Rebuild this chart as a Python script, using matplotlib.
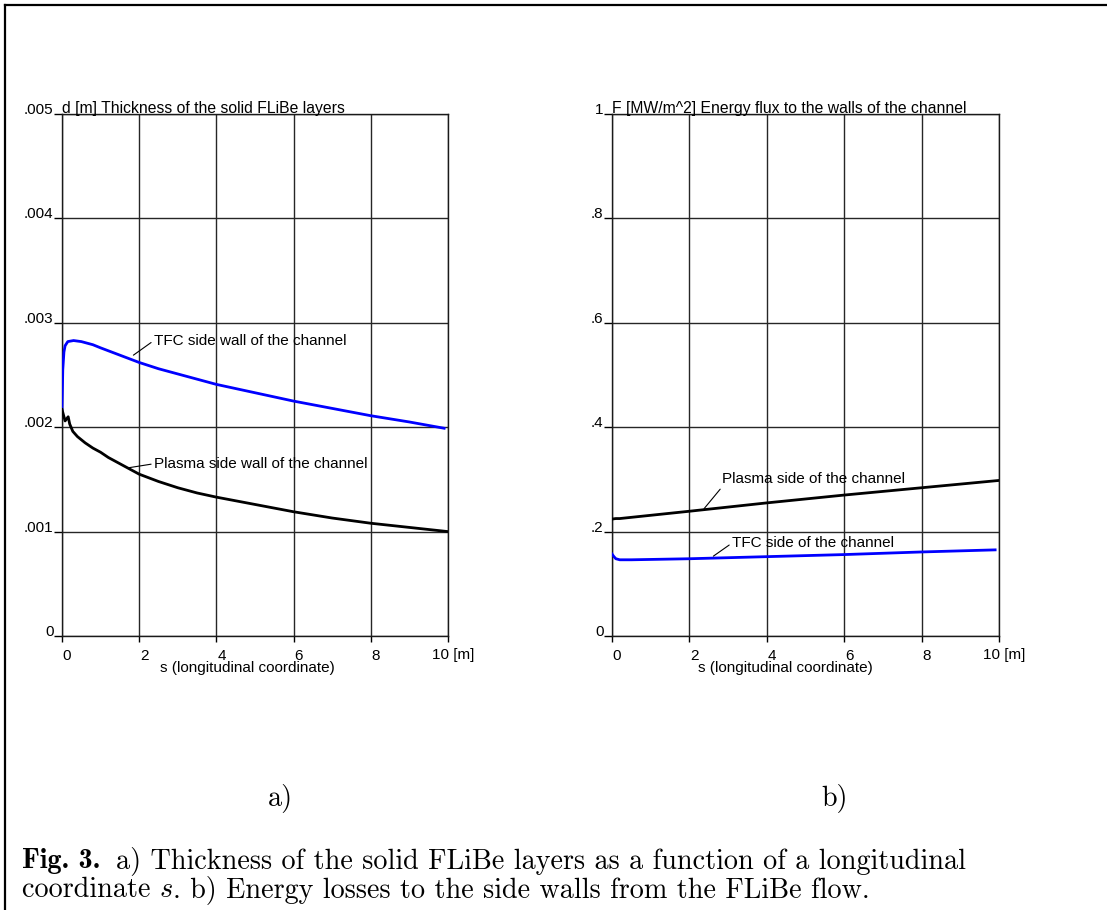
import numpy as np
import matplotlib.pyplot as plt
from matplotlib.lines import Line2D
from matplotlib.transforms import ScaledTranslation

# panel a) thickness of the solid FLiBe layers [m]
s_tfc_a = [0, 0.02, 0.05, 0.08, 0.15, 0.3, 0.5, 0.8, 1, 1.5, 2, 2.5, 3, 3.5, 4, 5, 6, 7, 8, 9, 9.9]
d_tfc = [0.00217, 0.00255, 0.00272, 0.00278, 0.00282, 0.00283, 0.00282, 0.00279,
         0.00276, 0.00269, 0.00262, 0.00256, 0.00251, 0.00246, 0.00241, 0.00233,
         0.00225, 0.00218, 0.00211, 0.00205, 0.00199]
s_pl_a = [0, 0.08, 0.16, 0.2, 0.28, 0.4, 0.6, 0.8, 1, 1.2, 1.5, 2, 2.5, 3, 3.5, 4,
          5, 6, 7, 8, 9, 10]
d_pl = [0.00217, 0.00206, 0.0021, 0.00203, 0.00196, 0.00191, 0.00185, 0.0018,
        0.00176, 0.00171, 0.00165, 0.00155, 0.00148, 0.00142, 0.00137, 0.00133,
        0.00126, 0.00119, 0.00113, 0.00108, 0.00104, 0.0010]

# panel b) energy flux to the walls [MW/m^2]
s_pl_b = [0, 0.1, 0.2, 2, 4, 6, 8, 10]
f_pl = [0.224, 0.225, 0.225, 0.239, 0.255, 0.270, 0.284, 0.298]
s_tfc_b = [0, 0.05, 0.1, 0.2, 0.5, 2, 4, 6, 8, 9.9]
f_tfc = [0.157, 0.152, 0.148, 0.146, 0.146, 0.148, 0.152, 0.156, 0.161, 0.165]

xticks = [0, 2, 4, 6, 8, 10]
xticklabels = ["0", "2", "4", "6", "8", "10 [m]"]
yticks_a = [0, 0.001, 0.002, 0.003, 0.004, 0.005]
yticklabels_a = ["0", ".001", ".002", ".003", ".004", ".005"]
yticks_b = [0, 0.2, 0.4, 0.6, 0.8, 1.0]
yticklabels_b = ["0", ".2", ".4", ".6", ".8", "1"]

plt.rcParams['font.family'] = ['Liberation Sans', 'DejaVu Sans']
fs = 11

fig = plt.figure(figsize=(11.07, 9.10), dpi=100)
W, H = 1107, 910


def make_axes(left_px, right_px, top_px=114, bottom_px=636):
    return fig.add_axes([left_px / W, 1 - bottom_px / H,
                         (right_px - left_px) / W, (bottom_px - top_px) / H])


def style(ax, yticks, yticklabels, ymax, title):
    ax.set_xlim(0, 10)
    ax.set_ylim(0, ymax)
    ax.set_xticks(xticks)
    ax.set_xticklabels(xticklabels)
    ax.set_yticks(yticks)
    ax.set_yticklabels(yticklabels)
    ax.grid(True, color='#262626', lw=1.0)
    for sp in ax.spines.values():
        sp.set_color('#1a1a1a')
        sp.set_linewidth(1.0)
    ax.tick_params(axis='x', length=4, width=1, pad=5, labelsize=fs)
    ax.tick_params(axis='y', length=6, width=1, pad=0, labelsize=fs)
    off = ScaledTranslation(5 / 100, 0, fig.dpi_scale_trans)
    for lab in ax.get_xticklabels():
        lab.set_transform(lab.get_transform() + off)
    for lab in ax.get_yticklabels():
        lab.set_va('baseline')
    ax.text(0, 1, title, transform=ax.transAxes + ScaledTranslation(0, 1 / 100, fig.dpi_scale_trans),
            ha='left', va='baseline', fontsize=11.3)


line_kw = dict(arrowstyle='-', color='black', lw=0.8, shrinkA=0, shrinkB=0)

ax1 = make_axes(62, 448)
style(ax1, yticks_a, yticklabels_a, 0.005, "d [m] Thickness of the solid FLiBe layers")
ax1.plot(s_tfc_a, d_tfc, color='#0000ff', lw=2.0, zorder=3)
ax1.plot(s_pl_a, d_pl, color='black', lw=2.0, zorder=3)
ax1.annotate("TFC side wall of the channel", xy=(1.85, 0.00269), xytext=(2.38, 0.00283),
             va='center', ha='left', fontsize=fs, arrowprops=dict(relpos=(0, 0.5), **line_kw))
ax1.annotate("Plasma side wall of the channel", xy=(1.7, 0.00161), xytext=(2.38, 0.00165),
             va='center', ha='left', fontsize=fs, arrowprops=dict(relpos=(0, 0.5), **line_kw))
ax1.text(4.8, -0.000307, "s (longitudinal coordinate)", ha='center', va='center', fontsize=fs)

ax2 = make_axes(612, 999)
style(ax2, yticks_b, yticklabels_b, 1.0, "F [MW/m^2] Energy flux to the walls of the channel")
ax2.plot(s_pl_b, f_pl, color='black', lw=2.0, zorder=3)
ax2.plot(s_tfc_b, f_tfc, color='#0000ff', lw=2.0, zorder=3)
ax2.annotate("Plasma side of the channel", xy=(2.38, 0.244), xytext=(2.85, 0.30),
             va='center', ha='left', fontsize=fs, arrowprops=dict(relpos=(0.02, 0.3), **line_kw))
ax2.annotate("TFC side of the channel", xy=(2.62, 0.153), xytext=(3.1, 0.178),
             va='center', ha='left', fontsize=fs, arrowprops=dict(relpos=(0, 0.5), **line_kw))
ax2.text(4.47, -0.061, "s (longitudinal coordinate)", ha='center', va='center', fontsize=fs)

# page frame
fig.add_artist(Line2D([5 / W, 1], [1 - 5 / H, 1 - 5 / H], color='black', lw=1.6,
                      transform=fig.transFigure))
fig.add_artist(Line2D([5 / W, 5 / W], [0, 1 - 5 / H], color='black', lw=1.6,
                      transform=fig.transFigure))

# caption in Computer Modern
cap = 20.3
fig.text(280 / W, 1 - 798 / H, "a)", family='cmr10', fontsize=cap, ha='center', va='center')
fig.text(835 / W, 1 - 798 / H, "b)", family='cmr10', fontsize=cap, ha='center', va='center')

t1 = fig.text(22 / W, 1 - 868 / H, "Fig. 3.", family='cmb10', fontsize=cap, va='baseline')
fig.canvas.draw()
bb = t1.get_window_extent()
fig.text((bb.x1 + 16) / W, 1 - 868 / H,
         "a) Thickness of the solid FLiBe layers as a function of a longitudinal",
         family='cmr10', fontsize=cap, va='baseline')
t2 = fig.text(22 / W, 1 - 897 / H, "coordinate ", family='cmr10', fontsize=cap, va='baseline')
fig.canvas.draw()
bb2 = t2.get_window_extent()
t3 = fig.text(bb2.x1 / W, 1 - 897 / H, "s", family='cmmi10', fontsize=cap, va='baseline')
fig.canvas.draw()
bb3 = t3.get_window_extent()
fig.text(bb3.x1 / W, 1 - 897 / H, ". b) Energy losses to the side walls from the FLiBe flow.",
         family='cmr10', fontsize=cap, va='baseline')

fig.savefig("out.png", dpi=100)
